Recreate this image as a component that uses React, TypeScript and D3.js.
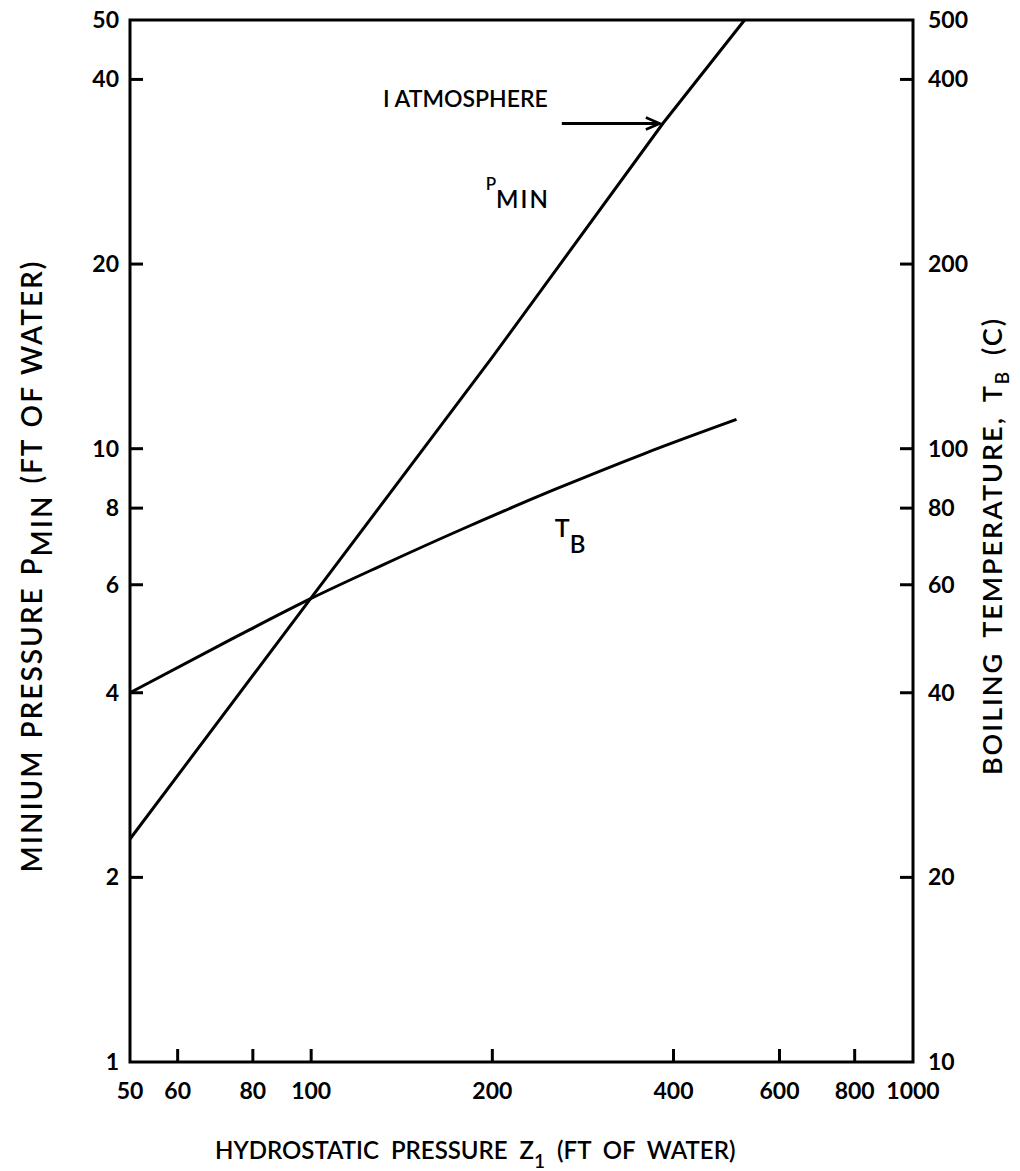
import React, { useEffect, useRef } from 'react';
import * as d3 from 'd3';

// P_MIN line: hydrostatic pressure Z1 vs minimum pressure (ft of water)
const pMinZ = [50, 100, 200, 384, 525];
const pMinValues = [2.31, 5.71, 14.1, 33.9, 50];

// T_B line: hydrostatic pressure Z1 vs boiling temperature (C)
const tbZ = [50, 74, 100, 130, 178, 254, 358, 509];
const tbValues = [40, 49, 57, 64.3, 73.9, 85.8, 98.2, 111.6];

const xTicks = [60, 80, 100, 200, 400, 600, 800];
const xLabels = [50, 60, 80, 100, 200, 400, 600, 800, 1000];
const leftTicks = [2, 4, 6, 8, 10, 20, 40];
const leftLabels = [1, 2, 4, 6, 8, 10, 20, 40, 50];
const rightTicks = [20, 40, 60, 80, 100, 200, 400];
const rightLabels = [10, 20, 40, 60, 80, 100, 200, 400, 500];

// 1 atmosphere = 33.9 ft of water
const atmZ = 384;
const atmP = 33.9;

const App = () => {
  const ref = useRef(null);

  useEffect(() => {
    const width = 1020;
    const height = 1171;
    const margin = { top: 20, right: 107, bottom: 109, left: 130 };
    const font = 'Lato, sans-serif';

    const svg = d3.select(ref.current);
    svg.selectAll('*').remove();

    const x = d3.scaleLog().domain([50, 1000]).range([margin.left, width - margin.right]);
    const yL = d3.scaleLog().domain([1, 50]).range([height - margin.bottom, margin.top]);
    const yR = d3.scaleLog().domain([10, 500]).range([height - margin.bottom, margin.top]);

    const x0 = margin.left;
    const x1 = width - margin.right;
    const y0 = height - margin.bottom;
    const y1 = margin.top;

    // frame
    svg.append('rect')
      .attr('x', x0).attr('y', y1)
      .attr('width', x1 - x0).attr('height', y0 - y1)
      .attr('fill', 'none').attr('stroke', '#000').attr('stroke-width', 3);

    const tickLen = 13;
    // bottom ticks
    svg.selectAll('line.xt').data(xTicks).enter().append('line')
      .attr('x1', d => x(d)).attr('x2', d => x(d))
      .attr('y1', y0).attr('y2', y0 - tickLen)
      .attr('stroke', '#000').attr('stroke-width', 3);
    svg.selectAll('text.xl').data(xLabels).enter().append('text')
      .attr('x', d => x(d)).attr('y', y0 + 37)
      .attr('text-anchor', 'middle')
      .attr('font-family', font).attr('font-weight', 'bold').attr('font-size', 23)
      .text(d => d);

    // left ticks
    svg.selectAll('line.lt').data(leftTicks).enter().append('line')
      .attr('x1', x0).attr('x2', x0 + tickLen)
      .attr('y1', d => yL(d)).attr('y2', d => yL(d))
      .attr('stroke', '#000').attr('stroke-width', 3);
    svg.selectAll('text.ll').data(leftLabels).enter().append('text')
      .attr('x', x0 - 11).attr('y', d => yL(d) + 8)
      .attr('text-anchor', 'end')
      .attr('font-family', font).attr('font-weight', 'bold').attr('font-size', 23)
      .text(d => d);

    // right ticks
    svg.selectAll('line.rt').data(rightTicks).enter().append('line')
      .attr('x1', x1).attr('x2', x1 - tickLen)
      .attr('y1', d => yR(d)).attr('y2', d => yR(d))
      .attr('stroke', '#000').attr('stroke-width', 3);
    svg.selectAll('text.rl').data(rightLabels).enter().append('text')
      .attr('x', x1 + 15).attr('y', d => yR(d) + 8)
      .attr('text-anchor', 'start')
      .attr('font-family', font).attr('font-weight', 'bold').attr('font-size', 23)
      .text(d => d);

    // curves
    const pLine = d3.line()
      .x(d => x(d[0])).y(d => yL(d[1]));
    svg.append('path')
      .datum(pMinZ.map((z, i) => [z, pMinValues[i]]))
      .attr('d', pLine)
      .attr('fill', 'none').attr('stroke', '#000').attr('stroke-width', 3);

    const tLine = d3.line()
      .x(d => x(d[0])).y(d => yR(d[1]))
      .curve(d3.curveMonotoneX);
    svg.append('path')
      .datum(tbZ.map((z, i) => [z, tbValues[i]]))
      .attr('d', tLine)
      .attr('fill', 'none').attr('stroke', '#000').attr('stroke-width', 3);

    // 1 atmosphere arrow
    const tipX = x(atmZ) - 3;
    const tipY = yL(atmP);
    svg.append('line')
      .attr('x1', tipX - 98).attr('x2', tipX)
      .attr('y1', tipY).attr('y2', tipY)
      .attr('stroke', '#000').attr('stroke-width', 3);
    svg.append('path')
      .attr('d', `M${tipX - 14},${tipY - 6} L${tipX},${tipY} L${tipX - 14},${tipY + 6}`)
      .attr('fill', 'none').attr('stroke', '#000').attr('stroke-width', 2.5);
    svg.append('text')
      .attr('x', tipX - 112).attr('y', tipY - 17)
      .attr('text-anchor', 'end')
      .attr('font-family', font).attr('font-size', 23).attr('font-weight', 600)
      .text('I ATMOSPHERE');

    // curve labels
    const pLab = svg.append('text')
      .attr('x', x(195)).attr('y', yL(26.4))
      .attr('font-family', font).attr('font-weight', 600);
    pLab.append('tspan').attr('font-size', 17).text('P');
    pLab.append('tspan').attr('font-size', 24).attr('letter-spacing', 2).attr('dy', 18).text('MIN');

    const tLab = svg.append('text')
      .attr('x', x(254)).attr('y', yR(71.8))
      .attr('font-family', font).attr('font-weight', 600);
    tLab.append('tspan').attr('font-size', 25).text('T');
    tLab.append('tspan').attr('font-size', 24).attr('dy', 16).text('B');

    // axis titles
    const xt = svg.append('text')
      .attr('x', 215).attr('y', y0 + 97)
      .attr('font-family', font).attr('font-size', 24).attr('font-weight', 600)
      .attr('word-spacing', 6);
    xt.append('tspan').text('HYDROSTATIC  PRESSURE  Z');
    xt.append('tspan').attr('font-size', 19).attr('dy', 9).text('1');
    xt.append('tspan').attr('dy', -9).text(' (FT  OF  WATER)');

    const lt = svg.append('text')
      .attr('transform', `translate(42, 566) rotate(-90)`)
      .attr('text-anchor', 'middle')
      .attr('font-family', font).attr('font-size', 28).attr('font-weight', 600)
      .attr('letter-spacing', 2).attr('word-spacing', 2);
    lt.append('tspan').text('MINIUM PRESSURE P');
    lt.append('tspan').attr('dy', 10).text('MIN');
    lt.append('tspan').attr('dy', -10).text(' (FT OF WATER)');

    const rt = svg.append('text')
      .attr('transform', `translate(1002, 546) rotate(-90)`)
      .attr('text-anchor', 'middle')
      .attr('font-family', font).attr('font-size', 27).attr('font-weight', 600)
      .attr('letter-spacing', 2).attr('word-spacing', 6);
    rt.append('tspan').text('BOILING TEMPERATURE, T');
    rt.append('tspan').attr('font-size', 19).attr('dy', 7).text('B');
    rt.append('tspan').attr('dy', -7).text(' (C)');
  }, []);

  return (
    <svg
      ref={ref}
      width={1020}
      height={1171}
      style={{ position: 'absolute', left: 0, top: 0, background: '#fff' }}
    />
  );
};

export default App;
